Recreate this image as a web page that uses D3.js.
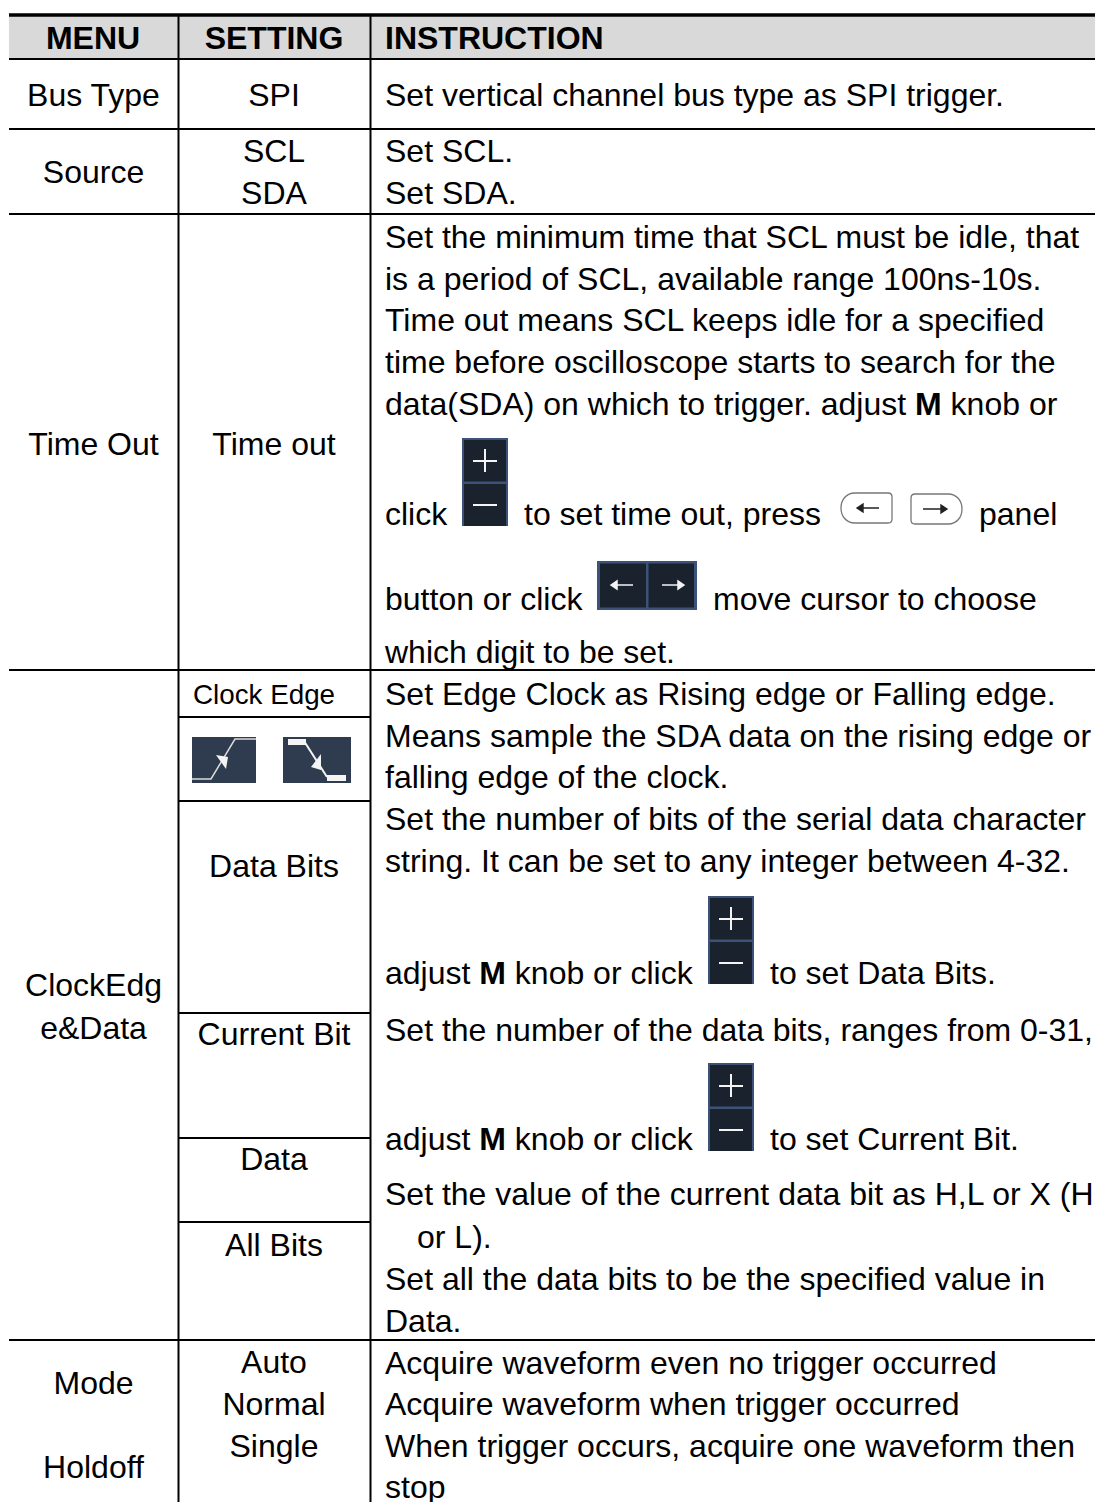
<!DOCTYPE html>
<html><head><meta charset="utf-8">
<script src="https://cdn.jsdelivr.net/npm/d3@7"></script>
<style>html,body{margin:0;padding:0;background:#fff}svg{display:block}
text{font-family:"Liberation Sans",Arial,sans-serif;fill:#000}</style></head>
<body><script>
const W = 1095, H = 1502;
const headers = ["MENU", "SETTING", "INSTRUCTION"];
const menuLabels = ["Bus Type", "Source", "Time Out", "ClockEdg", "e&Data", "Mode", "Holdoff"];
const menuBaselines = [106, 183, 455, 996, 1039, 1394, 1478];
const settingLabels = ["SPI", "SCL", "SDA", "Time out", "Clock Edge", "Data Bits", "Current Bit", "Data", "All Bits", "Auto", "Normal", "Single"];
const settingBaselines = [106, 162, 204, 455, 704, 877, 1045, 1170, 1256, 1373, 1415, 1457];
const settingSizes = [32, 32, 32, 32, 27.8, 32, 32, 32, 32, 32, 32, 32];
const settingCentres = [274, 274, 274, 274, 264, 274, 274, 274, 274, 274, 274, 274];
const instructionLines = [
  ["Set vertical channel bus type as SPI trigger."],
  ["Set SCL."],
  ["Set SDA."],
  ["Set the minimum time that SCL must be idle, that"],
  ["is a period of SCL, available range 100ns-10s."],
  ["Time out means SCL keeps idle for a specified"],
  ["time before oscilloscope starts to search for the"],
  ["data(SDA) on which to trigger. adjust ", "*M", " knob or"],
  ["click"], ["to set time out, press"], ["panel"],
  ["button or click"], ["move cursor to choose"],
  ["which digit to be set."],
  ["Set Edge Clock as Rising edge or Falling edge."],
  ["Means sample the SDA data on the rising edge or"],
  ["falling edge of the clock."],
  ["Set the number of bits of the serial data character"],
  ["string. It can be set to any integer between 4-32."],
  ["adjust ", "*M", " knob or click"], ["to set Data Bits."],
  ["Set the number of the data bits, ranges from 0-31,"],
  ["adjust ", "*M", " knob or click"], ["to set Current Bit."],
  ["Set the value of the current data bit as H,L or X (H"],
  ["or L)."],
  ["Set all the data bits to be the specified value in"],
  ["Data."],
  ["Acquire waveform even no trigger occurred"],
  ["Acquire waveform when trigger occurred"],
  ["When trigger occurs, acquire one waveform then"],
  ["stop"]
];
const instructionX = [385,385,385,385,385,385,385,385,385,524,979,385,713,385,385,385,385,385,385,385,770,385,385,770,385,417,385,385,385,385,385,385];
const instructionY = [106,162,204,248,290,331,373,415,525,525,525,610,610,663,705,747,788,830,872,984,984,1041,1150,1150,1205,1248,1290,1332,1374,1415,1457,1498];

const svg = d3.select("body").append("svg").attr("width", W).attr("height", H);
const ruleY = [59, 129, 214, 670, 1340];
const subRuleY = [717, 801, 1013, 1138, 1222];
const colX = [178.5, 370.5];

svg.append("rect").attr("x", 9).attr("y", 15).attr("width", W - 9).attr("height", 44).attr("fill", "#d9d9d9");
const line = (x1, y1, x2, y2, w) => svg.append("line").attr("x1", x1).attr("y1", y1).attr("x2", x2).attr("y2", y2).attr("stroke", "#000").attr("stroke-width", w);
line(9, 15, W, 15, 3.5);
ruleY.forEach(y => line(9, y, W, y, 2));
subRuleY.forEach(y => line(colX[0], y, colX[1], y, 2));
colX.forEach(x => line(x, 15, x, H, 2));

const label = (t, x, y, size, anchor, bold) => svg.append("text").attr("x", x).attr("y", y).attr("font-size", size).attr("text-anchor", anchor || "start").attr("font-weight", bold ? 700 : 400).text(t);

label(headers[0], 93, 49, 32, "middle", true);
label(headers[1], 274, 49, 32, "middle", true);
label(headers[2], 385, 49, 32, "start", true);
menuLabels.forEach((t, i) => label(t, 93.5, menuBaselines[i], 32, "middle"));
settingLabels.forEach((t, i) => label(t, settingCentres[i], settingBaselines[i], settingSizes[i], "middle"));
instructionLines.forEach((parts, i) => {
  const tx = svg.append("text").attr("x", instructionX[i]).attr("y", instructionY[i]).attr("font-size", 32);
  parts.forEach(p => {
    const b = p.startsWith("*");
    tx.append("tspan").attr("font-weight", b ? 700 : 400).style("white-space", "pre").text(b ? p.slice(1) : p);
  });
});

// icons
function plusMinus(x, y) {
  const g = svg.append("g").attr("transform", `translate(${x},${y})`);
  g.append("rect").attr("width", 46).attr("height", 88).attr("fill", "#3d5278");
  g.append("rect").attr("x", 2).attr("y", 2).attr("width", 42).attr("height", 41.5).attr("fill", "#1a222e");
  g.append("rect").attr("x", 2).attr("y", 46).attr("width", 42).attr("height", 42).attr("fill", "#1a222e");
  [[11, 23, 35, 23], [23, 11, 23, 34], [11, 67, 35, 67]].forEach(c =>
    g.append("line").attr("x1", c[0]).attr("y1", c[1]).attr("x2", c[2]).attr("y2", c[3]).attr("stroke", "#f4f4f4").attr("stroke-width", 2));
}
plusMinus(462, 438);
plusMinus(708, 896);
plusMinus(708, 1063);

const ag = svg.append("g").attr("transform", "translate(597,561)");
ag.append("rect").attr("width", 100).attr("height", 49).attr("fill", "#3d5278");
ag.append("rect").attr("x", 3).attr("y", 2.5).attr("width", 46).attr("height", 44).attr("fill", "#1a222e");
ag.append("rect").attr("x", 51.5).attr("y", 2.5).attr("width", 45.5).attr("height", 44).attr("fill", "#1a222e");
ag.append("path").attr("d", "M17 24H36M14 24l6-4v8zM65 24H83M87 24l-6-4v8z").attr("stroke", "#f4f4f4").attr("fill", "#f4f4f4").attr("stroke-width", 1.5);

// panel buttons
svg.append("path").attr("d", "M855 493H888Q892 493 892 497V519Q892 523 888 523H855C846 523 841 516 841 508S846 493 855 493Z").attr("fill", "#fff").attr("stroke", "#777").attr("stroke-width", 1.3);
svg.append("path").attr("d", "M915 494H948C957 494 962 501 962 509S957 524 948 524H915Q911 524 911 520V498Q911 494 915 494Z").attr("fill", "#fff").attr("stroke", "#777").attr("stroke-width", 1.3);
svg.append("path").attr("d", "M857 508H879M857 508l6-4v8z").attr("stroke", "#222").attr("fill", "#222").attr("stroke-width", 1.4);
svg.append("path").attr("d", "M923 509H946M947 509l-6-4v8z").attr("stroke", "#222").attr("fill", "#222").attr("stroke-width", 1.4);

// edge icons
const e1 = svg.append("g").attr("transform", "translate(192,737)");
e1.append("rect").attr("width", 64).attr("height", 46).attr("fill", "#2f3b4f");
e1.append("path").attr("d", "M0 42H19L43 2H64").attr("fill", "none").attr("stroke", "#dcdcdc").attr("stroke-width", 1.5);
e1.append("path").attr("d", "M24 18L36 20L34 32Z").attr("fill", "#f4f4f4");
const e2 = svg.append("g").attr("transform", "translate(283,737)");
e2.append("rect").attr("width", 68).attr("height", 46).attr("fill", "#2f3b4f");
e2.append("path").attr("d", "M21 4L44 40").attr("fill", "none").attr("stroke", "#f4f4f4").attr("stroke-width", 2);
e2.append("path").attr("d", "M5 2H23V8H5ZM44 38H63V44H44Z").attr("fill", "#f4f4f4");
e2.append("path").attr("d", "M28 30L38 17L38 33Z").attr("fill", "#f4f4f4");
</script></body></html>
